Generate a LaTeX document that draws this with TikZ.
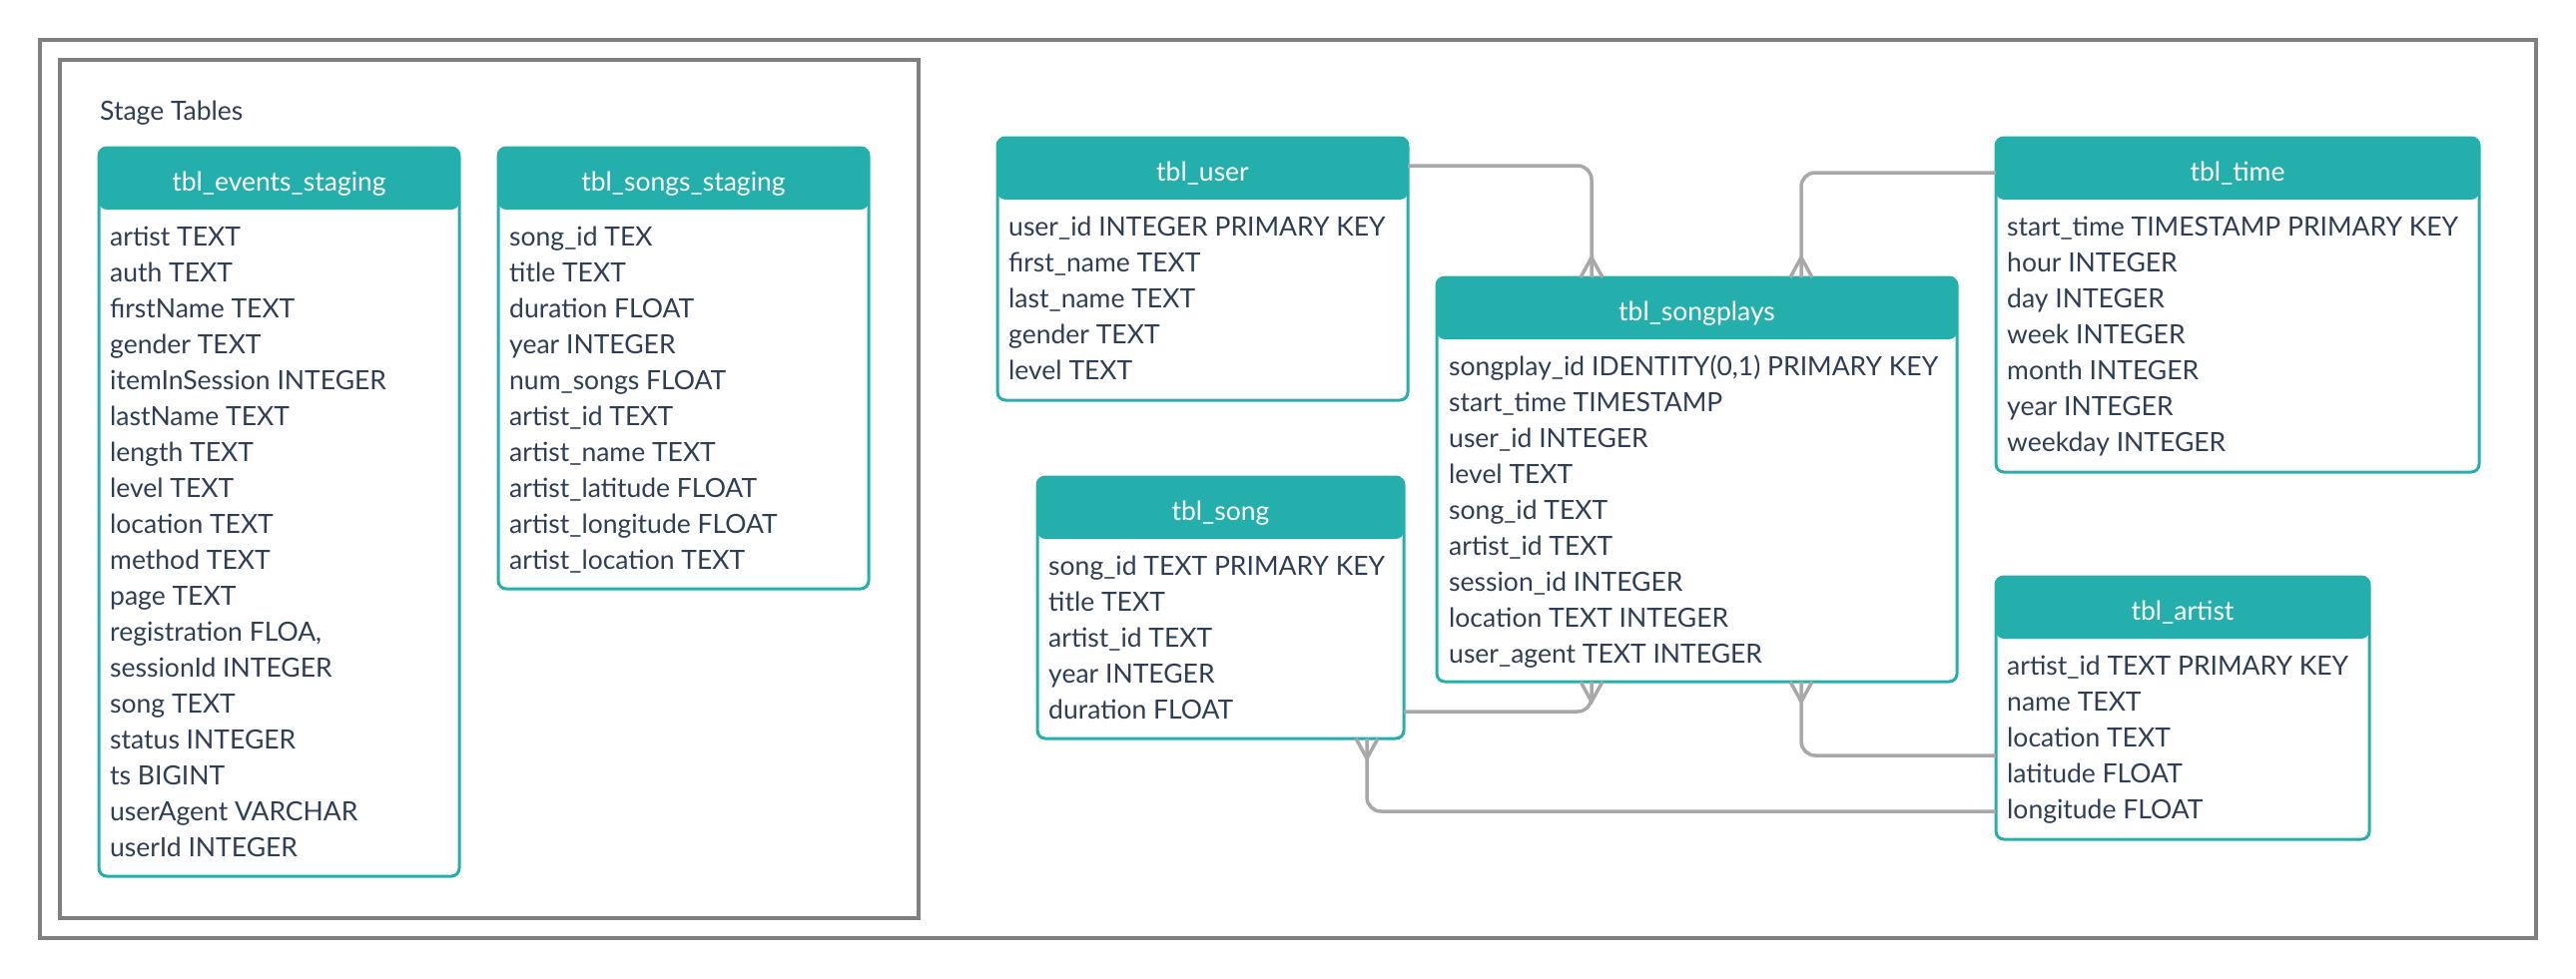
\documentclass[tikz,border=0pt]{standalone}
\usepackage{fontspec}
\setmainfont{Lato}
\usetikzlibrary{calc}
\definecolor{tealc}{HTML}{25AFAC}
\definecolor{txt}{HTML}{2E3E55}
\definecolor{relg}{HTML}{A8A8A8}
\definecolor{boxg}{HTML}{7F7F7F}
\begin{document}
\begin{tikzpicture}[x=1bp,y=-1bp,
  font=\fontsize{26.6}{36}\selectfont,
  frame/.style={draw=boxg, line width=4bp, anchor=north west, inner sep=0pt, outer sep=0pt},
  tbl/.style={draw=tealc, line width=3bp, rounded corners=8bp, fill=white, anchor=north west,
    inner sep=0pt, outer sep=0pt,
    path picture={\fill[tealc] (path picture bounding box.north west) rectangle ([yshift=-62bp]path picture bounding box.north east);}},
  title/.style={text=white, anchor=base, inner sep=0pt},
  field/.style={text=txt, anchor=base west, inner sep=0pt},
  rel/.style={draw=relg, line width=3.5bp, rounded corners=14bp},
  crow/.pic={\draw[relg, line width=3.5bp] (-11,0) -- (0,-20) -- (11,0);}
]
\useasboundingbox (0,0) rectangle (2580,980);
% frames
\node[frame, minimum width=2500bp, minimum height=900bp] (outer) at (40,40) {};
\node[frame, minimum width=860bp, minimum height=860bp] (stage) at (60,60) {};
\node[field] (stagelabel) at (100,120) {Stage Tables};

% tables
\node[tbl, minimum width=361bp, minimum height=730bp] (events) at (99,148) {};
\node[tbl, minimum width=371bp, minimum height=442bp] (songsst) at (499,148) {};
\node[tbl, minimum width=411bp, minimum height=263bp] (user) at (999,138) {};
\node[tbl, minimum width=521bp, minimum height=405bp] (songplays) at (1439,278) {};
\node[tbl, minimum width=367bp, minimum height=262bp] (song) at (1039,478) {};
\node[tbl, minimum width=484bp, minimum height=335bp] (time) at (1999,138) {};
\node[tbl, minimum width=374bp, minimum height=263bp] (artist) at (1999,578) {};

% titles
\node[title] (events-t) at ($(events.north)+(0,43)$) {tbl\_events\_staging};
\node[title] (songsst-t) at ($(songsst.north)+(0,43)$) {tbl\_songs\_staging};
\node[title] (user-t) at ($(user.north)+(0,43)$) {tbl\_user};
\node[title] (songplays-t) at ($(songplays.north)+(0,43)$) {tbl\_songplays};
\node[title] (song-t) at ($(song.north)+(0,43)$) {tbl\_song};
\node[title] (time-t) at ($(time.north)+(0,43)$) {tbl\_time};
\node[title] (artist-t) at ($(artist.north)+(0,43)$) {tbl\_artist};

% fields
\foreach \t [count=\i from 0] in {artist TEXT, auth TEXT, firstName TEXT, gender TEXT,
  itemInSession INTEGER, lastName TEXT, length TEXT, level TEXT, location TEXT, method TEXT,
  page TEXT, {registration FLOA,}, sessionId INTEGER, song TEXT, status INTEGER, ts BIGINT,
  userAgent VARCHAR, userId INTEGER}
  \node[field] (events-f\i) at (110,246+36*\i) {\t};
\foreach \t [count=\i from 0] in {song\_id TEX, title TEXT, duration FLOAT, year INTEGER,
  num\_songs FLOAT, artist\_id TEXT, artist\_name TEXT, artist\_latitude FLOAT,
  artist\_longitude FLOAT, artist\_location TEXT}
  \node[field] (songsst-f\i) at (510,246+36*\i) {\t};
\foreach \t [count=\i from 0] in {user\_id INTEGER PRIMARY KEY, first\_name TEXT,
  last\_name TEXT, gender TEXT, level TEXT}
  \node[field] (user-f\i) at (1010,236+36*\i) {\t};
\foreach \t [count=\i from 0] in {{songplay\_id IDENTITY(0,1) PRIMARY KEY}, start\_time TIMESTAMP,
  user\_id INTEGER, level TEXT, song\_id TEXT, artist\_id TEXT, session\_id INTEGER,
  location TEXT INTEGER, user\_agent TEXT INTEGER}
  \node[field] (songplays-f\i) at (1451,376+36*\i) {\t};
\foreach \t [count=\i from 0] in {song\_id TEXT PRIMARY KEY, title TEXT, artist\_id TEXT,
  year INTEGER, duration FLOAT}
  \node[field] (song-f\i) at (1050,576+36*\i) {\t};
\foreach \t [count=\i from 0] in {start\_time TIMESTAMP PRIMARY KEY, hour INTEGER, day INTEGER,
  week INTEGER, month INTEGER, year INTEGER, weekday INTEGER}
  \node[field] (time-f\i) at (2010,236+36*\i) {\t};
\foreach \t [count=\i from 0] in {artist\_id TEXT PRIMARY KEY, name TEXT, location TEXT,
  latitude FLOAT, longitude FLOAT}
  \node[field] (artist-f\i) at (2010,676+36*\i) {\t};

% connectors
\draw[rel] ([yshift=-28bp]user.north east) -| ([xshift=155bp]songplays.north west);
\draw[rel] ([yshift=-35bp]time.north west) -| ([xshift=365bp]songplays.north west);
\draw[rel] ([xshift=365bp]songplays.south west) |- ([yshift=-179bp]artist.north west);
\draw[rel] ([yshift=-235bp]song.north east) -| ([xshift=155bp]songplays.south west);
\draw[rel] ([xshift=330bp]song.south west) |- ([yshift=-235bp]artist.north west);
% crow's feet
\pic at ([xshift=155bp]songplays.north west) {crow};
\pic at ([xshift=365bp]songplays.north west) {crow};
\pic[rotate=180] at ([xshift=365bp]songplays.south west) {crow};
\pic[rotate=180] at ([xshift=155bp]songplays.south west) {crow};
\pic[rotate=180] at ([xshift=330bp]song.south west) {crow};
\end{tikzpicture}
\end{document}
